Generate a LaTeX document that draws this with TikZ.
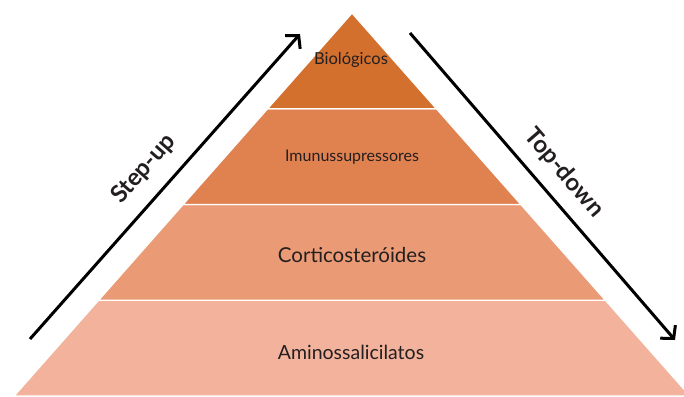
\documentclass[tikz,border=0pt]{standalone}
\usepackage{fontspec}
\setmainfont{Lato}
\usetikzlibrary{arrows.meta,calc}
\definecolor{tierA}{HTML}{D4702E}
\definecolor{tierB}{HTML}{E08150}
\definecolor{tierC}{HTML}{EA9A74}
\definecolor{tierD}{HTML}{F2B29B}
\definecolor{ink}{HTML}{231F20}
\tikzset{
  >={Straight Barb[length=9pt,width=20pt]},
  every node/.style={text=ink,inner sep=0pt},
  band/.style={draw=white,line width=1.4pt,line join=miter},
  tiertext/.style={font=\fontsize{#1}{#1}\selectfont},
  ladder/.style={->,line width=3pt,draw=black},
  sidetext/.style={font=\fontsize{24}{26}\selectfont\bfseries},
}

\begin{document}
\begin{tikzpicture}[x=1pt,y=-1pt]
\useasboundingbox (0,0) rectangle (684,396);
\clip (0,0) rectangle (684,396);

% pyramid
\coordinate (apex) at (352,13);
\coordinate (bl) at (14,396);
\coordinate (br) at (690,396);

\filldraw[band,fill=tierD] ($(apex)!0.75!(bl)$) -- ($(apex)!0.75!(br)$) -- (br) -- (bl) -- cycle;
\filldraw[band,fill=tierC] ($(apex)!0.5!(bl)$) -- ($(apex)!0.5!(br)$) -- ($(apex)!0.75!(br)$) -- ($(apex)!0.75!(bl)$) -- cycle;
\filldraw[band,fill=tierB] ($(apex)!0.25!(bl)$) -- ($(apex)!0.25!(br)$) -- ($(apex)!0.5!(br)$) -- ($(apex)!0.5!(bl)$) -- cycle;
\filldraw[band,fill=tierA] (apex) -- ($(apex)!0.25!(br)$) -- ($(apex)!0.25!(bl)$) -- cycle;

% tiers
\node[tiertext=16.5] (bio) at (351,60) {Biológicos};
\node[tiertext=16] (imu) at (352,157) {Imunussupressores};
\node[tiertext=20.5] (cort) at (352,255) {Corticosteróides};
\node[tiertext=19.5] (amino) at (351,352) {Aminossalicilatos};

% strategies
\coordinate (upfrom) at (30,339);
\coordinate (upto) at (300,34);
\coordinate (downfrom) at (410,33);
\coordinate (downto) at (675,340);

\draw[ladder] (upfrom) -- (upto);
\draw[ladder] (downfrom) -- (downto);

\node[sidetext,rotate=48.5] (stepup) at (144,169) {Step-up};
\node[sidetext,rotate=-49.3] (topdown) at (564,173) {Top-down};

\end{tikzpicture}
\end{document}
